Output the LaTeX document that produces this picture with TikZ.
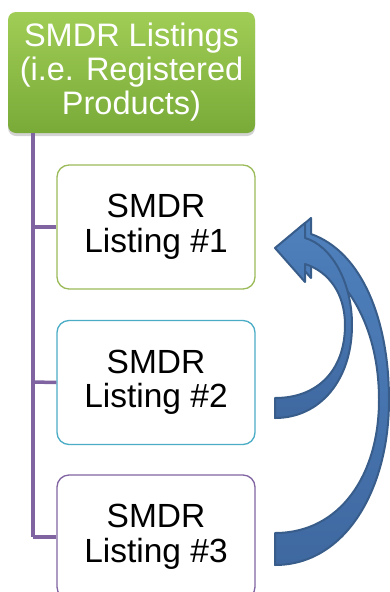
\documentclass[tikz,border=0pt]{standalone}
\usepackage{fontspec}
\setmainfont{Liberation Sans}
\usetikzlibrary{shadows}
\definecolor{lgreen}{HTML}{9BBB59}
\definecolor{lteal}{HTML}{4BACC6}
\definecolor{lpurple}{HTML}{8064A2}
\definecolor{gtop}{HTML}{A0CD55}
\definecolor{gbot}{HTML}{79AA38}
\definecolor{atop}{HTML}{4F81BD}
\definecolor{abot}{HTML}{3F68A0}
\definecolor{aedge}{HTML}{385D8A}
\begin{document}
\begin{tikzpicture}[x=1pt,y=-1pt,
  txt/.style={font=\fontsize{32.5}{34}\selectfont, align=center},
  child/.style={draw, line width=1.3pt, rounded corners=12pt, fill=white,
     minimum width=198pt, minimum height=124pt, inner sep=0pt,
     font=\fontsize{33.5}{34.5}\selectfont, align=center},
  conn/.style={draw=lpurple, line width=3.5pt},
  arrowshape/.style={top color=atop, bottom color=abot, draw=aedge, line width=2pt, line join=round}]
\useasboundingbox (0,0) rectangle (390,592);
\node[rounded corners=8pt, top color=gtop, bottom color=gbot,
  minimum width=247pt, minimum height=121pt, inner sep=0pt, txt, text=white,
  drop shadow={opacity=0.35, shadow xshift=0pt, shadow yshift=-3pt}]
  (top) at (131.5,72.5) {SMDR Listings\\(i.e. Registered\\Products)};
\coordinate (vt) at (33,133);
\coordinate (b1) at (33,227);
\coordinate (b2) at (33,382);
\coordinate (b3) at (33,537);
\node[child, draw=lgreen] (c1) at (156,227) {SMDR\\Listing \#1};
\node[child, draw=lteal] (c2) at (156,382.5) {SMDR\\Listing \#2};
\node[child, draw=lpurple] (c3) at (156,537) {SMDR\\Listing \#3};
\draw[conn] (vt) -- (b3);
\draw[conn] (b1) -- (c1.west);
\draw[conn] (b2) -- (c2.west);
\draw[conn] (b3) -- (c3.west);
% big arrow (behind)
\path[arrowshape] (275,533) .. controls (340,533) and (379,475) .. (379,400)
  .. controls (379,330) and (350,280) .. (311,258) -- (311,278) -- (281,244)
  -- (311,218) -- (311,234) .. controls (362,252) and (389,320) .. (389,400)
  .. controls (389,490) and (345,565) .. (275,565) -- cycle;
% small arrow (front)
\path[arrowshape] (275,398) .. controls (318,398) and (345,370) .. (345,325)
  .. controls (345,295) and (330,272) .. (305,264) -- (305,282) -- (275,248)
  -- (305,223) -- (305,238) .. controls (330,245) and (352,280) .. (352,325)
  .. controls (352,380) and (320,418) .. (275,418) -- cycle;
\end{tikzpicture}
\end{document}
